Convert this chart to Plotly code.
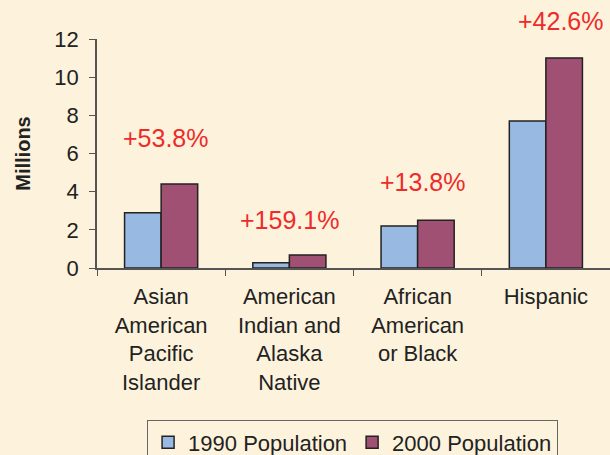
import plotly.graph_objects as go

categories = ["Asian<br>American<br>Pacific<br>Islander",
              "American<br>Indian and<br>Alaska<br>Native",
              "African<br>American<br>or Black",
              "Hispanic"]
pop_1990 = [2.9, 0.27, 2.2, 7.7]
pop_2000 = [4.4, 0.68, 2.5, 11.0]
pct_change = ["+53.8%", "+159.1%", "+13.8%", "+42.6%"]

BG = "#FDF3DC"
FONT = "Liberation Sans, Arial, sans-serif"

fig = go.Figure()
fig.add_trace(go.Bar(x=categories, y=pop_1990, name="1990 Population",
                     marker=dict(color="#98B9E1", line=dict(color="#222222", width=1.5))))
fig.add_trace(go.Bar(x=categories, y=pop_2000, name="2000 Population",
                     marker=dict(color="#A05072", line=dict(color="#222222", width=1.5))))

# growth labels above each pair of bars (y in axis-domain units so the top one isn't hidden)
gaps = [1.9, 1.3, 1.5, 1.4]
shifts = [5, 0, 5, 15]
for cat, a, b, txt, g, s in zip(categories, pop_1990, pop_2000, pct_change, gaps, shifts):
    fig.add_annotation(x=cat, xref="x", y=(max(a, b) + g) / 12, yref="y domain",
                       text=txt, showarrow=False, yanchor="bottom", xshift=s, yshift=-6,
                       font=dict(family=FONT, size=25, color="#EE2B2B"))

fig.update_layout(
    width=610, height=455,
    margin=dict(l=97, r=0, t=39, b=187),
    paper_bgcolor=BG, plot_bgcolor=BG,
    font=dict(family=FONT, size=21, color="#222222"),
    barmode="group", bargap=0.43, bargroupgap=0,
    showlegend=True,
    # container-referenced so the legend doesn't grow the bottom margin
    legend=dict(orientation="h", x=0.578, xanchor="center", xref="container",
                y=0.076, yanchor="top", yref="container",
                bordercolor="#666666", borderwidth=1, bgcolor=BG,
                font=dict(size=22), itemwidth=30),
)
fig.update_xaxes(showline=True, linecolor="#555555", linewidth=1.5, automargin=False,
                 ticks="outside", ticklen=6, tickcolor="#555555", tickson="boundaries",
                 tickfont=dict(size=22), ticklabelstandoff=8, showgrid=False)
fig.update_yaxes(range=[0, 12], dtick=2, showline=True, linecolor="#555555", linewidth=1.5,
                 automargin=False,
                 ticks="outside", ticklen=6, tickcolor="#555555", showgrid=False,
                 zeroline=False, tickfont=dict(size=22), ticklabelstandoff=6,
                 title=dict(text="<b>Millions</b>", font=dict(size=20), standoff=18))

# drop the page's default body margin so the chart sits at the window corner
fig.write_html("out.html", config={"displayModeBar": False},
               post_script="document.body.style.margin='0';")
